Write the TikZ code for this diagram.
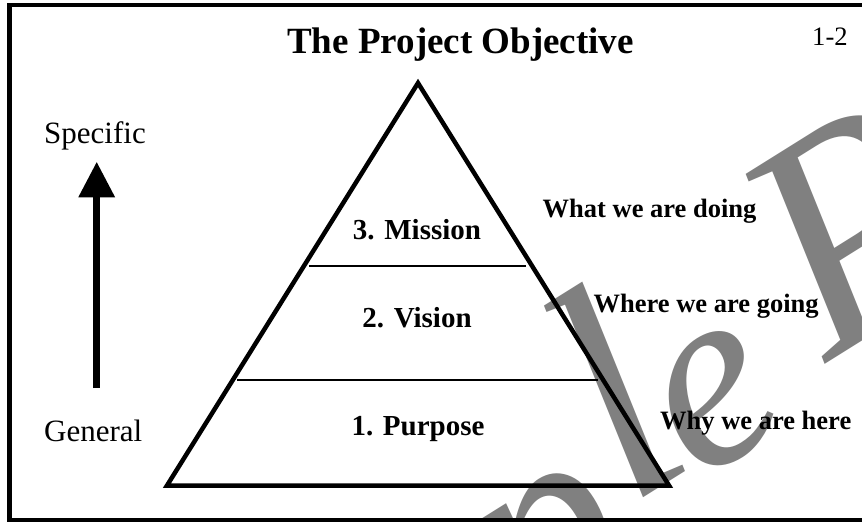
\documentclass[tikz,border=0pt]{standalone}
\usepackage{fontspec}
\setmainfont{Liberation Serif}
\usetikzlibrary{arrows.meta}
\definecolor{wmgray}{RGB}{128,128,128}
\tikzset{
  frame/.style={line width=4.5pt},
  pyr/.style={line width=4.5pt, line join=miter},
  divider/.style={line width=1.8pt},
  titletext/.style={inner sep=0pt, font=\bfseries\fontsize{37}{40}\selectfont},
  pagenum/.style={inner sep=0pt, font=\fontsize{26.6}{30}\selectfont},
  levellabel/.style={inner sep=0pt, anchor=base, font=\bfseries\fontsize{29}{32}\selectfont},
  sidelabel/.style={inner sep=0pt, anchor=base west, font=\bfseries\fontsize{26.5}{30}\selectfont},
  axislabel/.style={inner sep=0pt, anchor=base west, font=\fontsize{31}{34}\selectfont},
  watermark/.style={inner sep=0pt, anchor=base west, text=wmgray, rotate=32},
  wmbig/.style={watermark, font=\itshape\fontsize{310}{320}\selectfont},
  wmmid/.style={watermark, font=\itshape\fontsize{280}{290}\selectfont},
  wmsmall/.style={watermark, font=\itshape\fontsize{260}{270}\selectfont},
  bigarrow/.style={line width=7.3pt, -{Triangle[length=35.6pt,width=34.7pt]}}
}
\begin{document}
\begin{tikzpicture}[x=1pt,y=-1pt]
\useasboundingbox (0,0) rectangle (862,522);
\clip (0,0) rectangle (862,522);
\fill[white] (0,0) rectangle (862,522);
% watermark letters (behind everything else)
\node[wmmid] (wmp) at (528,642) {p};
\node[wmbig] (wml) at (629,507) {l};
\node[wmsmall] (wme) at (698,483) {e};
\node[wmbig] (wmP) at (826,364) {P};
% frame (right side lies outside the picture)
\draw[frame] (862,5) -- (9.5,5) -- (9.5,519.8) -- (862,519.8);
% texts
\node[titletext, anchor=base] (title) at (460.5,53) {The Project Objective};
\node[pagenum, anchor=base west] (pnum) at (812,45) {1-2};
\node[axislabel] (specific) at (44,143) {Specific};
\node[axislabel] (general) at (44,441) {General};
\node[levellabel] (mission) at (417,239) {3. Mission};
\node[levellabel] (vision) at (417,327) {2. Vision};
\node[levellabel] (purpose) at (418,435) {1. Purpose};
\node[sidelabel] (what) at (542.5,217) {What we are doing};
\node[sidelabel] (where) at (593.5,312) {Where we are going};
\node[sidelabel] (why) at (660,429.5) {Why we are here};
% pyramid
\coordinate (apex) at (418,83);
\coordinate (bl) at (167,485.5);
\coordinate (br) at (669,485.5);
\draw[pyr] (apex) -- (bl) -- (br) -- cycle;
\coordinate (d1l) at (309,266);
\coordinate (d1r) at (526,266);
\coordinate (d2l) at (237,380);
\coordinate (d2r) at (598,380);
\draw[divider] (d1l) -- (d1r);
\draw[divider] (d2l) -- (d2r);
% arrow
\coordinate (gen) at (96.7,388);
\coordinate (spec) at (96.7,161.7);
\draw[bigarrow] (gen) -- (spec);
\end{tikzpicture}
\end{document}
